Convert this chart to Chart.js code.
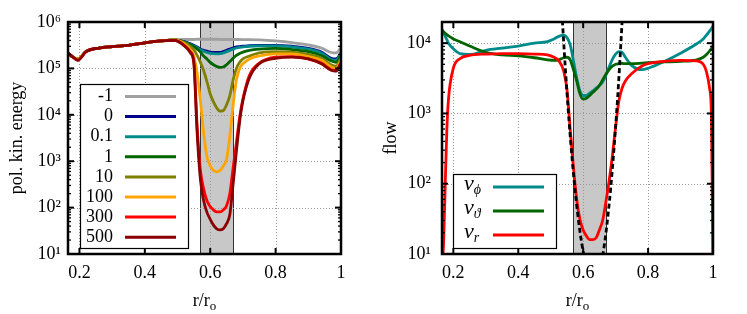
<!DOCTYPE html>
<html>
<head>
<meta charset="utf-8">
<script src="https://cdn.jsdelivr.net/npm/chart.js@4.4.0/dist/chart.umd.min.js"></script>
<style>
    html, body { margin: 0; padding: 0; background: #fff; }
    #wrap { position: relative; width: 747px; height: 314px; }
    canvas { position: absolute; top: 0; }
    #energyChart { left: 0; }
    #flowChart { left: 374px; }
</style>
</head>
<body>
<div id="wrap">
    <canvas id="energyChart" width="373" height="314"></canvas>
    <canvas id="flowChart" width="373" height="314"></canvas>
</div>
<script>
/* ================= DATA ================= */

const xTicks = [0.2, 0.4, 0.6, 0.8, 1];
const energyTicks = [1e1, 1e2, 1e3, 1e4, 1e5, 1e6];
const flowTicks = [1e1, 1e2, 1e3, 1e4];
const bandRange = [0.57, 0.67];

// left panel: radius grid + one array per parameter value
const rEnergy = [0.165, 0.18, 0.195, 0.22, 0.26, 0.30, 0.35, 0.40, 0.45, 0.49,
    0.52, 0.54, 0.55, 0.56, 0.57, 0.58, 0.59, 0.60, 0.61, 0.62,
    0.63, 0.64, 0.65, 0.66, 0.67, 0.68, 0.69, 0.70, 0.72, 0.75,
    0.80, 0.85, 0.90, 0.94, 0.97, 0.985, 1.0];

const energyLabels = ["-1", "0", "0.1", "1", "10", "100", "300", "500"];
const energyColors = ["#a0a0a0", "#00008b", "#008b8b", "#006400", "#808000", "#ffa500", "#ff0000", "#8b0000"];

const eMinus1 = [2.15e5, 1.75e5, 1.6e5, 2.3e5, 2.75e5, 2.95e5, 3.15e5, 3.55e5, 3.95e5, 4.15e5,
    4.2e5, 4.2e5, 4.2e5, 4.25e5, 4.25e5, 4.25e5, 4.25e5, 4.25e5, 4.25e5, 4.25e5,
    4.2e5, 4.2e5, 4.2e5, 4.2e5, 4.2e5, 4.2e5, 4.2e5, 4.15e5, 4.15e5, 4.1e5,
    3.9e5, 3.6e5, 3.2e5, 2.75e5, 2.2e5, 2.15e5, 2.8e5];
const e0 = [2.15e5, 1.75e5, 1.6e5, 2.3e5, 2.75e5, 2.95e5, 3.15e5, 3.55e5, 3.9e5, 4.1e5,
    3.8e5, 3.4e5, 3.15e5, 2.9e5, 2.6e5, 2.45e5, 2.35e5, 2.25e5, 2.2e5, 2.2e5,
    2.2e5, 2.3e5, 2.45e5, 2.6e5, 2.75e5, 2.9e5, 2.95e5, 3.0e5, 3.1e5, 3.15e5,
    3.15e5, 3.0e5, 2.7e5, 2.25e5, 1.65e5, 1.6e5, 2.15e5];
const e01 = [2.15e5, 1.75e5, 1.6e5, 2.3e5, 2.75e5, 2.95e5, 3.15e5, 3.55e5, 3.9e5, 4.1e5,
    3.7e5, 3.3e5, 3.05e5, 2.8e5, 2.5e5, 2.35e5, 2.2e5, 2.12e5, 2.08e5, 2.06e5,
    2.08e5, 2.15e5, 2.3e5, 2.45e5, 2.6e5, 2.75e5, 2.85e5, 2.9e5, 3.0e5, 3.05e5,
    3.05e5, 2.9e5, 2.6e5, 2.15e5, 1.55e5, 1.5e5, 2.05e5];
const e1 = [2.15e5, 1.75e5, 1.6e5, 2.3e5, 2.75e5, 2.95e5, 3.15e5, 3.55e5, 3.9e5, 4.1e5,
    3.7e5, 3.25e5, 2.95e5, 2.6e5, 2.25e5, 1.85e5, 1.6e5, 1.35e5, 1.2e5, 1.1e5,
    1.05e5, 1.07e5, 1.2e5, 1.4e5, 1.65e5, 1.9e5, 2.1e5, 2.25e5, 2.45e5, 2.6e5,
    2.7e5, 2.55e5, 2.3e5, 1.9e5, 1.45e5, 1.35e5, 1.9e5];
const e10 = [2.15e5, 1.75e5, 1.6e5, 2.3e5, 2.75e5, 2.95e5, 3.15e5, 3.55e5, 3.9e5, 4.1e5,
    3.6e5, 2.95e5, 2.5e5, 1.9e5, 1.35e5, 8.9e4, 5.2e4, 2.8e4, 1.9e4, 1.4e4,
    1.2e4, 1.23e4, 1.65e4, 2.6e4, 5.6e4, 1.0e5, 1.35e5, 1.6e5, 1.85e5, 2.15e5,
    2.3e5, 2.25e5, 2.0e5, 1.65e5, 1.2e5, 1.12e5, 1.65e5];
const e100 = [2.15e5, 1.75e5, 1.6e5, 2.3e5, 2.75e5, 2.95e5, 3.15e5, 3.55e5, 3.9e5, 4.1e5,
    3.4e5, 2.5e5, 1.8e5, 7.9e4, 2.0e4, 4.0e3, 1.26e3, 7.9e2, 6.3e2, 5.9e2,
    6.3e2, 7.9e2, 1.1e3, 3.5e3, 1.6e4, 5.6e4, 1.0e5, 1.26e5, 1.6e5, 1.85e5,
    2.05e5, 2.05e5, 1.8e5, 1.5e5, 1.07e5, 1.0e5, 1.5e5];
const e300 = [2.15e5, 1.75e5, 1.5e5, 2.3e5, 2.75e5, 2.95e5, 3.15e5, 3.55e5, 3.9e5, 4.0e5,
    3.15e5, 2.25e5, 1.4e5, 5.6e3, 6.3e2, 2.5e2, 1.4e2, 1.05e2, 89, 81,
    81, 89, 1.1e2, 2.0e2, 7.1e2, 2.5e3, 8.9e3, 2.2e4, 7.1e4, 1.3e5,
    1.75e5, 1.8e5, 1.6e5, 1.3e5, 9.3e4, 8.9e4, 1.35e5];
const e500 = [2.15e5, 1.75e5, 1.5e5, 2.3e5, 2.75e5, 2.95e5, 3.15e5, 3.55e5, 3.9e5, 4.0e5,
    3.1e5, 2.15e5, 1.25e5, 4.0e3, 4.0e2, 1.4e2, 79, 56, 42, 35,
    33, 35, 45, 71, 3.2e2, 1.6e3, 7.1e3, 2.0e4, 6.3e4, 1.26e5,
    1.65e5, 1.75e5, 1.6e5, 1.26e5, 9.1e4, 8.7e4, 1.3e5];

// right panel: radius grid + flow components
const rFlow = [0.165, 0.17, 0.175, 0.18, 0.185, 0.2, 0.22, 0.25, 0.3, 0.35,
    0.4, 0.45, 0.49, 0.51, 0.525, 0.54, 0.55, 0.56, 0.57, 0.58,
    0.59, 0.6, 0.61, 0.62, 0.63, 0.64, 0.65, 0.66, 0.67, 0.68,
    0.69, 0.70, 0.71, 0.72, 0.73, 0.75, 0.78, 0.8, 0.85, 0.9,
    0.95, 0.97, 0.98, 0.99, 0.995, 1.0];

const vPhi = [1.55e4, 1.4e4, 1.25e4, 1.12e4, 1.0e4, 8.3e3, 7.1e3, 6.9e3, 7.9e3, 8.5e3,
    9.1e3, 1.0e4, 1.05e4, 1.15e4, 1.25e4, 1.3e4, 1.2e4, 9.5e3, 5.6e3, 3.2e3,
    2.1e3, 1.8e3, 1.8e3, 1.95e3, 2.1e3, 2.3e3, 2.5e3, 2.8e3, 3.5e3, 4.6e3,
    5.9e3, 7.0e3, 7.6e3, 7.4e3, 6.3e3, 4.8e3, 4.2e3, 4.4e3, 5.5e3, 7.2e3,
    9.8e3, 1.15e4, 1.3e4, 1.5e4, 1.6e4, 1.75e4];
const vTheta = [1.55e4, 1.45e4, 1.38e4, 1.32e4, 1.27e4, 1.15e4, 1.05e4, 9.1e3, 7.4e3, 6.8e3,
    6.6e3, 6.2e3, 5.8e3, 5.7e3, 5.8e3, 6.2e3, 6.3e3, 5.8e3, 4.2e3, 2.9e3,
    1.9e3, 1.6e3, 1.65e3, 1.8e3, 2.0e3, 2.2e3, 2.5e3, 3.0e3, 3.6e3, 4.2e3,
    4.7e3, 5.0e3, 5.1e3, 5.15e3, 5.1e3, 5.1e3, 5.2e3, 5.3e3, 5.4e3, 5.5e3,
    5.8e3, 6.3e3, 6.9e3, 7.8e3, 8.4e3, 9.0e3];
const vR = [6, 15, 1.0e2, 6.0e2, 1.6e3, 4.4e3, 6.0e3, 6.7e3, 7.0e3, 7.1e3,
    7.1e3, 7.0e3, 6.8e3, 6.3e3, 5.6e3, 4.0e3, 2.2e3, 6.0e2, 1.7e2, 60,
    31, 22, 18, 16, 16, 17, 22, 30, 55, 1.1e2,
    2.5e2, 6.5e2, 1.5e3, 2.3e3, 2.9e3, 3.7e3, 4.7e3, 5.1e3, 5.5e3, 5.7e3,
    5.6e3, 5.0e3, 3.9e3, 2.2e3, 1.0e3, 6];

// dashed black guide curves on both flanks of the gap
const rDashIn = [0.53, 0.545, 0.56, 0.575, 0.59, 0.603];
const dashIn = [6e4, 4.4e3, 4.8e2, 81, 21, 8.9];
const rDashOut = [0.66, 0.67, 0.685, 0.70, 0.71, 0.725];
const dashOut = [9.3, 19.6, 89, 650, 3.2e3, 5.4e4];

/* ================= HELPERS ================= */

const SERIF = "'Liberation Serif', 'Times New Roman', serif";
const sup = { 1: "\u00b9", 2: "\u00b2", 3: "\u00b3", 4: "\u2074", 5: "\u2075", 6: "\u2076" };
const tickFont = { family: SERIF, size: 18 };

Chart.defaults.font.family = SERIF;
Chart.defaults.font.size = 18;
Chart.defaults.color = "#000";

function pts(xs, ys) {
    return xs.map((v, i) => ({ x: v, y: ys[i] }));
}

function line(ctx, x0, y0, x1, y1) {
    ctx.beginPath();
    ctx.moveTo(x0, y0);
    ctx.lineTo(x1, y1);
    ctx.stroke();
}

/* ================= DECOR PLUGIN (band, grid, legend, frame) ================= */

const panelDecor = {
    id: "panelDecor",

    beforeDatasetsDraw(chart) {
        const { ctx, chartArea: a, scales: { x, y } } = chart;
        ctx.save();

        const bx0 = x.getPixelForValue(bandRange[0]);
        const bx1 = x.getPixelForValue(bandRange[1]);
        ctx.fillStyle = "#c8c8c8";
        ctx.fillRect(bx0, a.top, bx1 - bx0, a.bottom - a.top);
        ctx.strokeStyle = "#333";
        ctx.lineWidth = 1;
        line(ctx, Math.round(bx0) + 0.5, a.top, Math.round(bx0) + 0.5, a.bottom);
        line(ctx, Math.round(bx1) + 0.5, a.top, Math.round(bx1) + 0.5, a.bottom);

        // dotted grid
        ctx.setLineDash([1, 2]);
        ctx.strokeStyle = "#999";
        xTicks.forEach(v => {
            const px = Math.round(x.getPixelForValue(v)) + 0.5;
            line(ctx, px, a.top, px, a.bottom);
        });
        y.ticks.forEach(t => {
            const py = Math.round(y.getPixelForValue(t.value)) + 0.5;
            line(ctx, a.left, py, a.right, py);
        });
        ctx.restore();
    },

    afterDatasetsDraw(chart, args, opts) {
        const { ctx, chartArea: a, scales: { x, y } } = chart;
        const L = opts.legend;
        ctx.save();

        // ---- legend ----
        ctx.fillStyle = "#fff";
        ctx.fillRect(L.x, L.y, L.w, L.h);
        ctx.strokeStyle = "#000";
        ctx.lineWidth = 1.2;
        ctx.strokeRect(L.x + 0.5, L.y + 0.5, L.w, L.h);

        let row = 0;
        chart.data.datasets.forEach(ds => {
            if (ds.noLegend) return;
            const cy = L.firstRow + row * L.rowStep;
            ctx.strokeStyle = ds.borderColor;
            ctx.lineWidth = 3;
            line(ctx, L.lineX0, cy, L.lineX1, cy);

            ctx.fillStyle = "#000";
            ctx.textBaseline = "middle";
            if (L.math) {
                const main = ds.label[0];
                const sub = ds.label.slice(1);
                ctx.textAlign = "left";
                ctx.font = "italic 22px " + SERIF;
                ctx.fillText(main, L.labelX, cy - 3);
                const w = ctx.measureText(main).width;
                ctx.font = "italic 14px " + SERIF;
                ctx.fillText(sub, L.labelX + w, cy + 3);
            } else {
                ctx.textAlign = "right";
                ctx.font = "18px " + SERIF;
                ctx.fillText(ds.label, L.labelX, cy);
            }
            row++;
        });

        // ---- ticks on all four sides ----
        ctx.strokeStyle = "#000";
        ctx.lineWidth = 2;
        xTicks.forEach(v => {
            const px = x.getPixelForValue(v);
            line(ctx, px, a.bottom, px, a.bottom - 6);
            line(ctx, px, a.top, px, a.top + 6);
        });
        y.ticks.forEach(t => {
            const py = y.getPixelForValue(t.value);
            line(ctx, a.left, py, a.left + 6, py);
            line(ctx, a.right, py, a.right - 6, py);
        });
        ctx.lineWidth = 1.3;
        y.ticks.forEach(t => {
            for (let m = 2; m <= 9; m++) {
                const v = t.value * m;
                if (v > y.max) break;
                const py = y.getPixelForValue(v);
                line(ctx, a.left, py, a.left + 3, py);
                line(ctx, a.right, py, a.right - 3, py);
            }
        });

        // ---- frame ----
        ctx.lineWidth = 2.5;
        ctx.strokeRect(a.left, a.top, a.right - a.left, a.bottom - a.top);

        // ---- x title r/r_o ----
        const cx = (a.left + a.right) / 2;
        ctx.fillStyle = "#000";
        ctx.textBaseline = "alphabetic";
        ctx.textAlign = "left";
        ctx.font = "18px " + SERIF;
        const wMain = ctx.measureText("r/r").width;
        ctx.font = "13px " + SERIF;
        const wSub = ctx.measureText("o").width;
        const x0 = cx - (wMain + wSub) / 2;
        ctx.font = "18px " + SERIF;
        ctx.fillText("r/r", x0, 306);
        ctx.font = "13px " + SERIF;
        ctx.fillText("o", x0 + wMain, 310);

        ctx.restore();
    }
};

/* ================= CHART FACTORY ================= */

function makeOptions(yMax, yTicksArr, yTitle, tickPad, padRight, legend) {
    return {
        responsive: false,
        animation: false,
        devicePixelRatio: 1,
        layout: { padding: { left: 0, top: 22, right: padRight, bottom: 0 } },
        plugins: {
            legend: { display: false },
            tooltip: { enabled: false },
            panelDecor: { legend: legend }
        },
        elements: { point: { radius: 0 } },
        scales: {
            x: {
                type: "linear",
                min: 0.165,
                max: 1,
                grid: { display: false, drawTicks: false },
                border: { display: false },
                ticks: { padding: 8, font: tickFont, color: "#000", callback: v => String(v) },
                afterBuildTicks: s => { s.ticks = xTicks.map(v => ({ value: v })); },
                afterFit: s => { s.height = 60; }
            },
            y: {
                type: "logarithmic",
                min: 10,
                max: yMax,
                grid: { display: false, drawTicks: false },
                border: { display: false },
                title: { display: true, text: yTitle, font: tickFont, padding: { top: 6, bottom: 0 } },
                ticks: {
                    padding: tickPad,
                    font: tickFont,
                    color: "#000",
                    callback: v => "10" + sup[Math.round(Math.log10(v))]
                },
                afterBuildTicks: s => { s.ticks = yTicksArr.map(v => ({ value: v })); },
                afterFit: s => { s.width = 68; }
            }
        }
    };
}

/* ================= LEFT: POLOIDAL KINETIC ENERGY ================= */

const energySeries = [eMinus1, e0, e01, e1, e10, e100, e300, e500];

new Chart(document.getElementById("energyChart"), {
    type: "line",
    data: {
        datasets: energySeries.map((vals, i) => ({
            label: energyLabels[i],
            data: pts(rEnergy, vals),
            borderColor: energyColors[i],
            borderWidth: 2.8,
            cubicInterpolationMode: "monotone",
            order: energySeries.length - 1 - i
        }))
    },
    options: makeOptions(1e6, energyTicks, "pol. kin. energy", 7, 32, {
        x: 80, y: 84, w: 108, h: 164,
        firstRow: 96.5, rowStep: 20.1,
        labelX: 113, lineX0: 125, lineX1: 176,
        math: false
    }),
    plugins: [panelDecor]
});

/* ================= RIGHT: FLOW COMPONENTS ================= */

new Chart(document.getElementById("flowChart"), {
    type: "line",
    data: {
        datasets: [
            { label: "v\u03d5", data: pts(rFlow, vPhi), borderColor: "#008b8b", order: 3 },
            { label: "v\u03d1", data: pts(rFlow, vTheta), borderColor: "#006400", order: 2 },
            { label: "vr", data: pts(rFlow, vR), borderColor: "#ff0000", order: 1 },
            { label: "guide in", data: pts(rDashIn, dashIn), borderColor: "#000", borderDash: [5, 3], noLegend: true, order: 0 },
            { label: "guide out", data: pts(rDashOut, dashOut), borderColor: "#000", borderDash: [5, 3], noLegend: true, order: 0 }
        ].map(ds => Object.assign({ borderWidth: 2.8, cubicInterpolationMode: "monotone" }, ds))
    },
    options: makeOptions(2e4, flowTicks, "flow", 11, 34, {
        x: 79, y: 174, w: 103, h: 74,
        firstRow: 187, rowStep: 24,
        labelX: 90, lineX0: 119, lineX1: 170,
        math: true
    }),
    plugins: [panelDecor]
});
</script>
</body>
</html>
